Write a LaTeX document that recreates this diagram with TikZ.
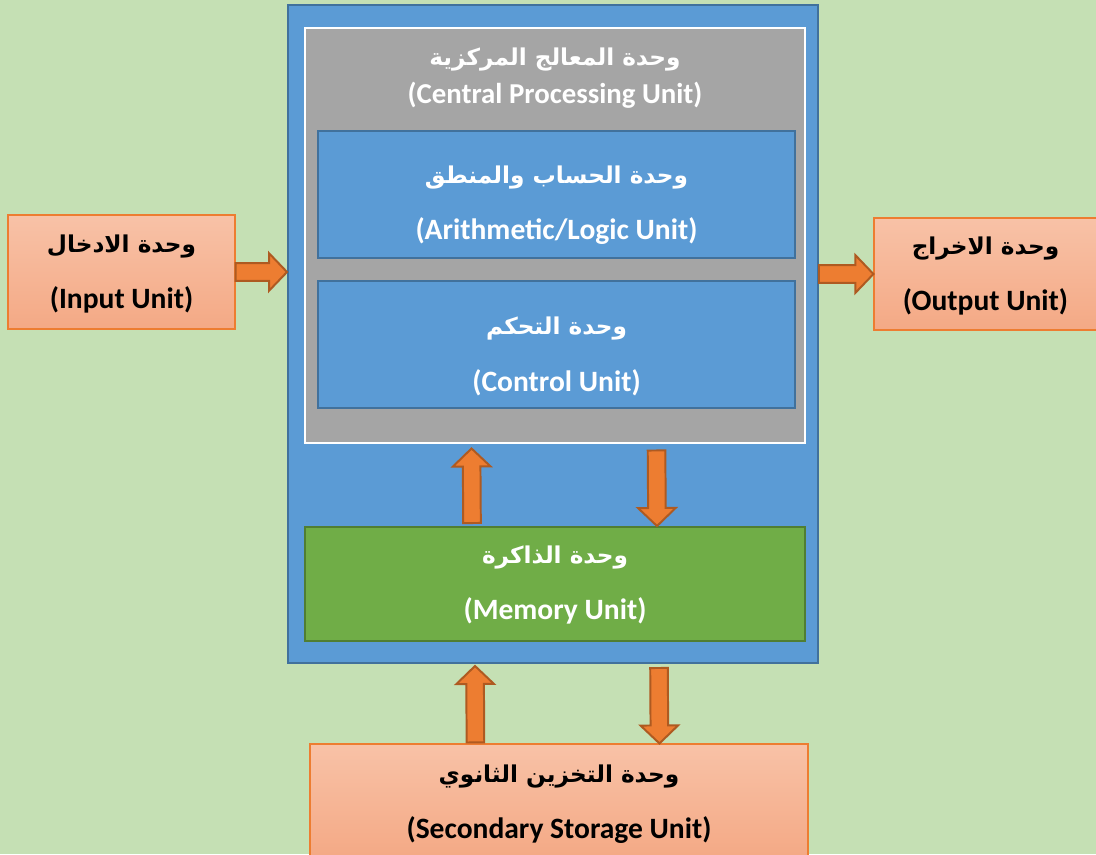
\documentclass[tikz,border=0pt]{standalone}
\usepackage{fontspec}
\setmainfont{Carlito}
\newfontfamily\arabicfont[Script=Arabic]{DejaVu Sans}
\TeXXeTstate=1
\usetikzlibrary{calc}
\usetikzlibrary{fit}

\definecolor{bggreen}{HTML}{C5E0B4}
\definecolor{bluefill}{HTML}{5B9BD5}
\definecolor{blueline}{HTML}{41719C}
\definecolor{cpugray}{HTML}{A5A5A5}
\definecolor{memgreen}{HTML}{70AD47}
\definecolor{memline}{HTML}{507E32}
\definecolor{salmontop}{HTML}{F8C2A7}
\definecolor{salmonbot}{HTML}{F4A985}
\definecolor{salmonline}{HTML}{ED7D31}
\definecolor{arroworange}{HTML}{ED7D31}
\definecolor{arrowline}{HTML}{AE5A21}

\newcommand{\artext}[1]{{\arabicfont\fontsize{16.5}{19}\selectfont\beginR #1\endR}}

\tikzset{
    box/.style={inner sep=0},
    unittext/.style={inner sep=0, align=center, font=\bfseries\fontsize{21}{25}\selectfont},
    bluebox/.style={box, draw=blueline, fill=bluefill, line width=1.4pt},
    salmonbox/.style={box, draw=salmonline, top color=salmontop, bottom color=salmonbot, line width=0.8pt},
    blockarrow/.style={draw=arrowline, fill=arroworange, line width=1.4pt, line join=miter,
        to path={
            ($(\tikztostart)!0.22cm!90:(\tikztotarget)$)
            -- ($($(\tikztotarget)!0.45cm!(\tikztostart)$)!0.22cm!-90:(\tikztostart)$)
            -- ($($(\tikztotarget)!0.45cm!(\tikztostart)$)!0.47cm!-90:(\tikztostart)$)
            -- (\tikztotarget)
            -- ($($(\tikztotarget)!0.45cm!(\tikztostart)$)!0.47cm!90:(\tikztostart)$)
            -- ($($(\tikztotarget)!0.45cm!(\tikztostart)$)!0.22cm!90:(\tikztostart)$)
            -- ($(\tikztostart)!0.22cm!-90:(\tikztotarget)$)
            -- cycle}}
}

\begin{document}
\begin{tikzpicture}[x=0.025cm, y=-0.025cm]
    \clip (0,0) rectangle (1096,854);
    \fill[bggreen] (0,0) rectangle (1096,854);

    % computer box
    \node[bluebox, fit={(288,5) (818,663)}] (main) {};
    \node[box, draw=white, fill=cpugray, line width=2.1pt, fit={(305,28) (805,443)}] (cpu) {};
    \node[unittext, text=white, font=\bfseries\fontsize{20.5}{24}\selectfont] (cputext) at (555,78)
        {\artext{وحدة المعالج المركزية}\\[3.5pt] (Central Processing Unit)};
    \node[bluebox, fit={(318,131) (795,258)}] (alu) {};
    \node[unittext, text=white] (alutext) at ($(alu)+(0,11)$)
        {\artext{وحدة الحساب والمنطق}\\[15pt] (Arithmetic/Logic Unit)};
    \node[bluebox, fit={(318,281) (795,408)}] (ctrl) {};
    \node[unittext, text=white] (ctrltext) at ($(ctrl)+(0,12)$)
        {\artext{وحدة التحكم}\\[15pt] (Control Unit)};
    \node[bluebox, draw=memline, fill=memgreen, fit={(305,527) (805,641)}] (mem) {};
    \node[unittext, text=white] (memtext) at ($(mem)+(0,1)$)
        {\artext{وحدة الذاكرة}\\[15pt] (Memory Unit)};

    % outside units
    \node[salmonbox, fit={(8,215) (235,329)}] (in) {};
    \node[unittext] (intext) at ($(in)+(0,2)$)
        {\artext{وحدة الادخال}\\[15pt] (Input Unit)};
    \node[salmonbox, fit={(874,218) (1104,330)}] (out) {};
    \node[unittext] (outtext) at ($(out.west)+(112,2)$)
        {\artext{وحدة الاخراج}\\[15pt] (Output Unit)};
    \node[salmonbox, fit={(310,744) (808,858)}] (sec) {};
    \node[unittext] (sectext) at ($(sec)+(0,3)$)
        {\artext{وحدة التخزين الثانوي}\\[15pt] (Secondary Storage Unit)};

    % arrows
    \draw[blockarrow] (in.east) to (main.west |- in.east);
    \draw[blockarrow] (main.east |- out.west) to (out.west);
    \draw[blockarrow] ($(mem.north west)+(168,-3)$) to ($(cpu.south west)+(168,4)$);
    \draw[blockarrow] ($(cpu.south west)+(353,6)$) to ($(mem.north west)+(353,0)$);
    \draw[blockarrow] ($(sec.north west)+(166,-1)$) to ($(main.south west)+(188,2)$);
    \draw[blockarrow] ($(main.south west)+(372,4)$) to ($(sec.north west)+(350,0)$);
\end{tikzpicture}
\end{document}
